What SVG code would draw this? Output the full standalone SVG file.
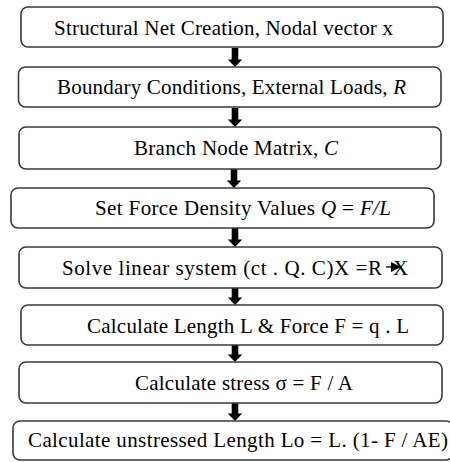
<svg xmlns="http://www.w3.org/2000/svg" width="450" height="462" viewBox="0 0 450 462">
  <style>
    .box { fill: #ffffff; stroke: #3a3a3a; stroke-width: 1.6; }
    .lbl { font-family: "Liberation Serif", "Times New Roman", serif; font-size: 21px; fill: #000; }
    .it { font-style: italic; }
    .arrow { fill: #000; }
  </style>
  <defs>
    <!-- thick downward block arrow, drawn with its tip at the origin -->
    <path id="down" d="M-3.3,-19 H3.3 V-7.5 H7.2 L0,0 L-7.2,-7.5 H-3.3 Z"/>
  </defs>
  <rect width="450" height="462" fill="#ffffff"/>

  <g id="connectors" class="arrow">
    <use href="#down" x="235" y="67"/>
    <use href="#down" x="235" y="127"/>
    <use href="#down" x="234" y="188"/>
    <use href="#down" x="235" y="247"/>
    <use href="#down" x="235" y="305"/>
    <use href="#down" x="235" y="362"/>
    <use href="#down" x="235" y="421"/>
  </g>

  <g id="net-creation">
    <rect class="box" x="21" y="7" width="422" height="40" rx="7"/>
    <text class="lbl" x="54" y="35" textLength="339">Structural Net Creation, Nodal vector x</text>
  </g>

  <g id="boundary-conditions">
    <rect class="box" x="18.5" y="67" width="422.5" height="40" rx="7"/>
    <text class="lbl" x="57" y="94" textLength="349">Boundary Conditions, External Loads, <tspan class="it">R</tspan></text>
  </g>

  <g id="branch-node-matrix">
    <rect class="box" x="19" y="127" width="422" height="42" rx="7"/>
    <text class="lbl" x="134" y="155" textLength="204">Branch Node Matrix, <tspan class="it">C</tspan></text>
  </g>

  <g id="force-density">
    <rect class="box" x="11" y="188" width="423" height="40" rx="7"/>
    <text class="lbl" x="95" y="215" textLength="296">Set Force Density Values <tspan class="it">Q</tspan> = <tspan class="it">F/L</tspan></text>
  </g>

  <g id="linear-system">
    <rect class="box" x="19" y="247" width="423" height="41" rx="7"/>
    <text class="lbl" x="62" y="275" textLength="320">Solve linear system (ct . Q. C)X =R</text>
    <!-- small solution arrow overlapping the final X -->
    <line x1="386" y1="267" x2="394" y2="267" stroke="#000" stroke-width="1.3"/>
    <polygon points="391,262 401,267 391,272" fill="#000"/>
    <text class="lbl" x="393" y="275">X</text>
  </g>

  <g id="length-force">
    <rect class="box" x="21" y="305" width="422" height="40" rx="7"/>
    <text class="lbl" x="87" y="333" textLength="322">Calculate Length L &amp; Force F = q . L</text>
  </g>

  <g id="stress">
    <rect class="box" x="19" y="362" width="423" height="41" rx="7"/>
    <text class="lbl" x="135" y="390" textLength="218">Calculate stress σ = F / A</text>
  </g>

  <g id="unstressed-length">
    <rect class="box" x="13" y="421" width="440" height="39" rx="7"/>
    <text class="lbl" x="28" y="447" textLength="420">Calculate unstressed Length Lo = L. (1- F / AE)</text>
  </g>
</svg>
